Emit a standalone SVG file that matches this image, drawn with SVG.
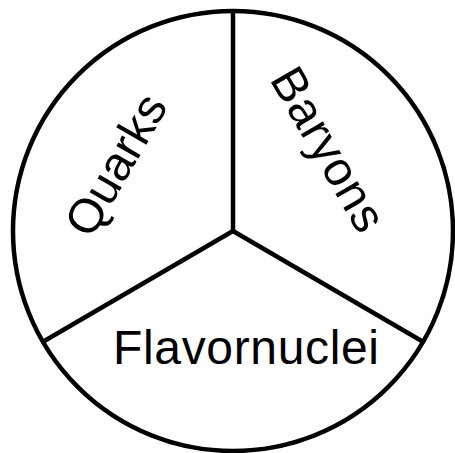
<svg xmlns="http://www.w3.org/2000/svg" width="455" height="453" viewBox="0 0 455 453">
<style>
.ln{stroke:#000;stroke-width:4.5;fill:none;stroke-linecap:butt}
.lbl{font-family:"Liberation Sans",Arial,sans-serif;font-size:48px;fill:#000}
</style>
<rect width="455" height="453" fill="#fff"/>
<g id="circle"><circle class="ln" cx="233" cy="231" r="220"/></g>
<g id="connectors">
<line class="ln" x1="233" y1="11" x2="233" y2="231"/>
<line class="ln" x1="233" y1="231" x2="43" y2="341.7"/>
<line class="ln" x1="233" y1="231" x2="423" y2="341.7"/>
</g>
<g id="quarks"><text class="lbl" text-anchor="middle" transform="translate(130,173) rotate(-60)">Quarks</text></g>
<g id="baryons"><text class="lbl" transform="translate(269,79) rotate(60)" textLength="181" lengthAdjust="spacing">Baryons</text></g>
<g id="flavornuclei"><text class="lbl" x="113" y="364" textLength="266" lengthAdjust="spacing">Flavornuclei</text></g>
</svg>
